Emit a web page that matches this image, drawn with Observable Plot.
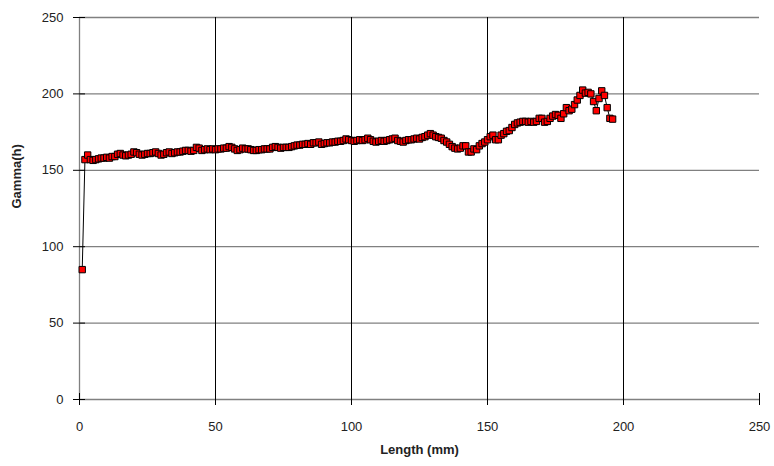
<!DOCTYPE html>
<html><head><meta charset="utf-8">
<script src="https://cdn.jsdelivr.net/npm/d3@7"></script>
<script src="https://cdn.jsdelivr.net/npm/@observablehq/plot@0.6"></script>
<style>body{margin:0;background:#fff}</style>
</head><body><div id="chart"></div>
<script>
const gammaValues = [85,157,160,157,156.5,157,157.5,158,158,158.5,158,159,159,160.5,161,160,159.5,160,160.5,162,161.5,160.5,160,160.5,161,161,161.5,162,161,160,160.5,161.5,162,161,161.5,162,162,162.5,163,163,162.5,163,165,164.5,163,163.5,164,163.5,164,163.5,164,164,164.5,164.5,165.5,165,164,163,163.5,164.5,164,164,163.5,163,163,163.5,163.5,164,164,164,165,165.5,165,164.5,165,165,165,165.5,166,166.5,166.5,167,167,167.5,167,168,168,168.5,167,167.5,168,168,168.5,168.5,169,169,169.5,170.5,170,169.5,169,169.5,170,169.5,170,171,170,169,168.5,169,169.5,169,169.5,170,170.5,171,169.5,169,168.5,169.5,170,170,170.5,171,170.5,171.5,172,173,174,173,172,171.5,171,169.5,168.5,167,165.5,164.5,164,164.5,166,166,162,162,164,163.5,166,167.5,168.5,170,172,173,170,170,173,174,175.5,176,178,180,181,181.5,182,182,181.5,182,181.5,182,184,184,181.5,182,184,185.5,186.5,186,184,187,191,189,190,193,196,199,202.5,200.5,201,200,195,189,197,202,199,191,184,183.5];
const lengthValues = gammaValues.map((_, i) => i + 1);
const xTicks = [0, 50, 100, 150, 200, 250];
const yTicks = [0, 50, 100, 150, 200, 250];
const data = lengthValues.map((x, i) => ({x, y: gammaValues[i]}));

const chart = Plot.plot({
  width: 774, height: 466,
  marginLeft: 79, marginRight: 15, marginTop: 17, marginBottom: 67,
  style: {fontFamily: "Liberation Sans, Arial, sans-serif", fontSize: "13px", color: "#222", background: "#fff"},
  x: {domain: [0, 250], ticks: xTicks},
  y: {domain: [0, 250], ticks: yTicks},
  marks: [
    Plot.ruleY(yTicks.filter(d => d > 0), {stroke: "#808080", strokeWidth: 1.3}),
    Plot.ruleX([50, 100, 150, 200], {stroke: "#000", strokeWidth: 1}),
    Plot.ruleX([0], {stroke: "#808080", strokeWidth: 1.3}),
    Plot.ruleY([0], {stroke: "#808080", strokeWidth: 1.3}),
    Plot.axisX({ticks: xTicks, tickSize: 6, tickPadding: 16, stroke: "#000", label: null, fontSize: 13}),
    Plot.axisX({ticks: xTicks, tickSize: -6, text: null, stroke: "#000", label: null}),
    Plot.axisY({ticks: yTicks, tickSize: 6, tickPadding: 10, stroke: "#000", label: null, fontSize: 13}),
    Plot.axisY({ticks: yTicks, tickSize: -6, text: null, stroke: "#000", label: null}),
    Plot.text(["Length (mm)"], {frameAnchor: "bottom", dy: 54, fontWeight: "bold", fontSize: 13, fill: "#222"}),
    Plot.text(["Gamma(h)"], {frameAnchor: "left", dx: -63, rotate: -90, fontWeight: "bold", fontSize: 13, fill: "#222"}),
    Plot.line(data, {x: "x", y: "y", stroke: "#000", strokeWidth: 1}),
    Plot.dot(data, {x: "x", y: "y", symbol: "square", r: 3.6, fill: "#ff0000", stroke: "#000", strokeWidth: 1})
  ]
});
document.getElementById("chart").appendChild(chart);
</script>
</body></html>
